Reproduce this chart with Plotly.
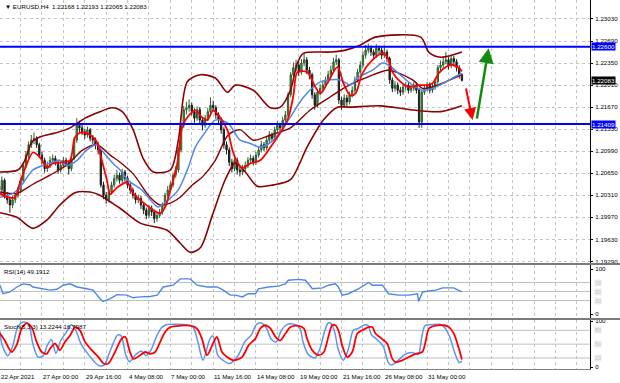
import plotly.graph_objects as go
from plotly.subplots import make_subplots

# ---------------- data ----------------
symbol_title = "▼ EURUSD,H4  1.22168 1.22193 1.22065 1.22083"
rsi_title = "RSI(14) 49.1912"
stoch_title = "Stoch(5,3,3) 13.2244 16.7987"

bar_index = list(range(174))

opens = [
    1.2045, 1.2039, 1.2054, 1.2031, 1.2024, 1.2016, 1.2024, 1.2031, 1.2039, 1.2054,
    1.2077, 1.2093, 1.2109, 1.2116, 1.2119, 1.2109, 1.2093, 1.2085, 1.2072, 1.2077,
    1.2085, 1.2088, 1.2082, 1.2070, 1.2077, 1.2085, 1.2080, 1.2072, 1.2088, 1.2116,
    1.2139, 1.2135, 1.2129, 1.2124, 1.2132, 1.2119, 1.2116, 1.2109, 1.2101, 1.2047,
    1.2031, 1.2024, 1.2036, 1.2047, 1.2057, 1.2062, 1.2054, 1.2067, 1.2057, 1.2047,
    1.2039, 1.2031, 1.2024, 1.2026, 1.2016, 1.2008, 1.2000, 1.2011, 1.2005, 1.1995,
    1.2000, 1.2005, 1.2016, 1.2031, 1.2039, 1.2047, 1.2062, 1.2070, 1.2101, 1.2139,
    1.2163, 1.2166, 1.2170, 1.2160, 1.2150, 1.2163, 1.2147, 1.2139, 1.2150, 1.2160,
    1.2170, 1.2166, 1.2155, 1.2147, 1.2132, 1.2109, 1.2101, 1.2082, 1.2072, 1.2085,
    1.2070, 1.2067, 1.2072, 1.2077, 1.2085, 1.2088, 1.2082, 1.2093, 1.2101, 1.2109,
    1.2104, 1.2116, 1.2124, 1.2119, 1.2132, 1.2139, 1.2135, 1.2147, 1.2155, 1.2186,
    1.2217, 1.2228, 1.2232, 1.2221, 1.2235, 1.2240, 1.2224, 1.2217, 1.2186, 1.2170,
    1.2190, 1.2196, 1.2201, 1.2209, 1.2217, 1.2224, 1.2237, 1.2240, 1.2178, 1.2170,
    1.2181, 1.2175, 1.2186, 1.2193, 1.2209, 1.2221, 1.2232, 1.2247, 1.2255, 1.2258,
    1.2252, 1.2247, 1.2258, 1.2255, 1.2247, 1.2252, 1.2242, 1.2209, 1.2196, 1.2201,
    1.2193, 1.2190, 1.2198, 1.2201, 1.2193, 1.2196, 1.2201, 1.2193, 1.2144, 1.2190,
    1.2196, 1.2201, 1.2193, 1.2198, 1.2206, 1.2228, 1.2232, 1.2237, 1.2240, 1.2231,
    1.2242, 1.2237, 1.2228, 1.22168,
]
highs = [
    1.2058, 1.2060, 1.2057, 1.2036, 1.2029, 1.2030, 1.2035, 1.2044, 1.2058, 1.2081,
    1.2099, 1.2114, 1.2124, 1.2128, 1.2122, 1.2112, 1.2098, 1.2089, 1.2083, 1.2091,
    1.2094, 1.2092, 1.2086, 1.2081, 1.2090, 1.2089, 1.2084, 1.2092, 1.2120, 1.2150,
    1.2146, 1.2140, 1.2133, 1.2137, 1.2135, 1.2124, 1.2120, 1.2113, 1.2104, 1.2052,
    1.2036, 1.2040, 1.2052, 1.2063, 1.2070, 1.2066, 1.2072, 1.2070, 1.2061, 1.2050,
    1.2043, 1.2035, 1.2032, 1.2030, 1.2020, 1.2012, 1.2016, 1.2015, 1.2009, 1.2005,
    1.2010, 1.2020, 1.2035, 1.2045, 1.2052, 1.2066, 1.2076, 1.2105, 1.2143, 1.2169,
    1.2175, 1.2179, 1.2174, 1.2165, 1.2168, 1.2167, 1.2151, 1.2155, 1.2166, 1.2182,
    1.2177, 1.2170, 1.2159, 1.2151, 1.2136, 1.2114, 1.2105, 1.2087, 1.2090, 1.2089,
    1.2075, 1.2078, 1.2083, 1.2090, 1.2094, 1.2092, 1.2098, 1.2106, 1.2115, 1.2113,
    1.2121, 1.2130, 1.2128, 1.2137, 1.2145, 1.2143, 1.2152, 1.2161, 1.2190, 1.2221,
    1.2236, 1.2240, 1.2237, 1.2241, 1.2250, 1.2244, 1.2229, 1.2220, 1.2190, 1.2195,
    1.2202, 1.2207, 1.2214, 1.2223, 1.2231, 1.2243, 1.2248, 1.2243, 1.2183, 1.2187,
    1.2186, 1.2191, 1.2199, 1.2214, 1.2226, 1.2238, 1.2253, 1.2263, 1.2265, 1.2262,
    1.2256, 1.2264, 1.2262, 1.2259, 1.2262, 1.2256, 1.2245, 1.2213, 1.2207, 1.2205,
    1.2198, 1.2203, 1.2206, 1.2205, 1.2201, 1.2206, 1.2205, 1.2196, 1.2193, 1.2201,
    1.2206, 1.2205, 1.2203, 1.2211, 1.2232, 1.2239, 1.2244, 1.2252, 1.2244, 1.2248,
    1.2246, 1.2241, 1.2232, 1.22193,
]
lows = [
    1.2030, 1.2033, 1.2026, 1.2018, 1.2004, 1.2011, 1.2019, 1.2027, 1.2035, 1.2050,
    1.2073, 1.2088, 1.2104, 1.2110, 1.2104, 1.2088, 1.2079, 1.2066, 1.2067, 1.2073,
    1.2080, 1.2077, 1.2064, 1.2066, 1.2073, 1.2075, 1.2063, 1.2068, 1.2085, 1.2112,
    1.2128, 1.2124, 1.2118, 1.2120, 1.2114, 1.2110, 1.2102, 1.2094, 1.2043, 1.2025,
    1.2018, 1.2020, 1.2032, 1.2043, 1.2052, 1.2049, 1.2050, 1.2052, 1.2042, 1.2033,
    1.2026, 1.2018, 1.2019, 1.2010, 1.2002, 1.1994, 1.1996, 1.1999, 1.1988, 1.1990,
    1.1996, 1.2001, 1.2012, 1.2027, 1.2035, 1.2043, 1.2058, 1.2066, 1.2097, 1.2135,
    1.2156, 1.2160, 1.2154, 1.2143, 1.2146, 1.2140, 1.2131, 1.2135, 1.2146, 1.2156,
    1.2160, 1.2149, 1.2141, 1.2126, 1.2103, 1.2094, 1.2076, 1.2066, 1.2068, 1.2063,
    1.2060, 1.2062, 1.2068, 1.2073, 1.2080, 1.2077, 1.2078, 1.2089, 1.2097, 1.2099,
    1.2100, 1.2111, 1.2114, 1.2115, 1.2128, 1.2130, 1.2131, 1.2143, 1.2151, 1.2182,
    1.2212, 1.2222, 1.2215, 1.2217, 1.2230, 1.2218, 1.2210, 1.2180, 1.2163, 1.2166,
    1.2185, 1.2191, 1.2197, 1.2204, 1.2212, 1.2220, 1.2232, 1.2172, 1.2163, 1.2166,
    1.2169, 1.2171, 1.2182, 1.2189, 1.2205, 1.2217, 1.2228, 1.2242, 1.2250, 1.2246,
    1.2241, 1.2243, 1.2249, 1.2241, 1.2243, 1.2236, 1.2203, 1.2190, 1.2191, 1.2187,
    1.2184, 1.2186, 1.2193, 1.2188, 1.2189, 1.2192, 1.2188, 1.2135, 1.2135, 1.2186,
    1.2192, 1.2188, 1.2189, 1.2194, 1.2203, 1.2223, 1.2227, 1.2233, 1.2225, 1.2227,
    1.2230, 1.2222, 1.2211, 1.22065,
]
closes = [
    1.2039, 1.2054, 1.2031, 1.2024, 1.2016, 1.2024, 1.2031, 1.2039, 1.2054, 1.2077,
    1.2093, 1.2109, 1.2116, 1.2119, 1.2109, 1.2093, 1.2085, 1.2072, 1.2077, 1.2085,
    1.2088, 1.2082, 1.2070, 1.2077, 1.2085, 1.2080, 1.2072, 1.2088, 1.2116, 1.2139,
    1.2135, 1.2129, 1.2124, 1.2132, 1.2119, 1.2116, 1.2109, 1.2101, 1.2047, 1.2031,
    1.2024, 1.2036, 1.2047, 1.2057, 1.2062, 1.2054, 1.2067, 1.2057, 1.2047, 1.2039,
    1.2031, 1.2024, 1.2026, 1.2016, 1.2008, 1.2000, 1.2011, 1.2005, 1.1995, 1.2000,
    1.2005, 1.2016, 1.2031, 1.2039, 1.2047, 1.2062, 1.2070, 1.2101, 1.2139, 1.2163,
    1.2166, 1.2170, 1.2160, 1.2150, 1.2163, 1.2147, 1.2139, 1.2150, 1.2160, 1.2170,
    1.2166, 1.2155, 1.2147, 1.2132, 1.2109, 1.2101, 1.2082, 1.2072, 1.2085, 1.2070,
    1.2067, 1.2072, 1.2077, 1.2085, 1.2088, 1.2082, 1.2093, 1.2101, 1.2109, 1.2104,
    1.2116, 1.2124, 1.2119, 1.2132, 1.2139, 1.2135, 1.2147, 1.2155, 1.2186, 1.2217,
    1.2228, 1.2232, 1.2221, 1.2235, 1.2240, 1.2224, 1.2217, 1.2186, 1.2170, 1.2190,
    1.2196, 1.2201, 1.2209, 1.2217, 1.2224, 1.2237, 1.2240, 1.2178, 1.2170, 1.2181,
    1.2175, 1.2186, 1.2193, 1.2209, 1.2221, 1.2232, 1.2247, 1.2255, 1.2258, 1.2252,
    1.2247, 1.2258, 1.2255, 1.2247, 1.2252, 1.2242, 1.2209, 1.2196, 1.2201, 1.2193,
    1.2190, 1.2198, 1.2201, 1.2193, 1.2196, 1.2201, 1.2193, 1.2144, 1.2190, 1.2196,
    1.2201, 1.2193, 1.2198, 1.2206, 1.2228, 1.2232, 1.2237, 1.2240, 1.2231, 1.2242,
    1.2237, 1.2228, 1.2217, 1.22083,
]

fast_ma_x = [0.3, 2.9, 5.9, 7.7, 10.4, 12.6, 15.2, 17.9, 20.1, 23.9, 26.5, 28.4, 31.0, 34.0, 36.6,
             37.7, 40.3, 41.5, 44.1, 47.8, 50.1, 53.8, 57.6, 60.2, 62.1, 64.0, 66.6, 68.4, 70.3, 73.3,
             75.9, 77.8, 80.0, 81.9, 85.3, 87.2, 89.0, 90.9, 93.9, 97.6, 101.4, 107.8, 110.0, 111.5, 115.2,
             118.2, 120.1, 122.7, 126.5, 128.7, 131.3, 133.2, 135.8, 139.6, 143.3, 145.2, 147.1, 149.3, 153.1, 156.8,
             159.4, 162.1, 164.3, 167.0, 169.6, 172.0, 173.0]
fast_ma_y = [1.2034, 1.2028, 1.2028, 1.2050, 1.2080, 1.2097, 1.2090, 1.2074, 1.2080, 1.2082, 1.2085, 1.2121, 1.2128, 1.2124, 1.2113,
             1.2096, 1.2054, 1.2033, 1.2043, 1.2051, 1.2034, 1.2020, 1.2008, 1.2003, 1.2013, 1.2039, 1.2080, 1.2136, 1.2151, 1.2162,
             1.2151, 1.2147, 1.2162, 1.2155, 1.2132, 1.2101, 1.2082, 1.2073, 1.2080, 1.2085, 1.2105, 1.2147, 1.2185, 1.2221, 1.2221,
             1.2198, 1.2188, 1.2204, 1.2229, 1.2204, 1.2185, 1.2188, 1.2219, 1.2240, 1.2250, 1.2244, 1.2221, 1.2209, 1.2198, 1.2201,
             1.2201, 1.2204, 1.2219, 1.2229, 1.2232, 1.2227, 1.2222]

slow_ma_x = [0.3, 5.1, 7.7, 12.6, 16.4, 20.1, 22.7, 25.4, 29.1, 32.8, 36.6, 38.8, 42.6, 45.2, 48.2,
             53.4, 59.4, 63.2, 66.9, 70.7, 73.3, 77.0, 80.8, 85.6, 90.1, 93.9, 97.6, 102.5, 108.9, 113.7,
             120.1, 127.6, 131.3, 134.3, 139.6, 143.3, 145.6, 149.3, 154.6, 158.3, 162.1, 167.0, 171.8, 173.0]
slow_ma_y = [1.2028, 1.2034, 1.2043, 1.2070, 1.2077, 1.2082, 1.2085, 1.2077, 1.2085, 1.2101, 1.2109, 1.2098, 1.2080, 1.2070, 1.2054,
             1.2039, 1.2013, 1.2024, 1.2039, 1.2074, 1.2105, 1.2128, 1.2147, 1.2142, 1.2116, 1.2111, 1.2105, 1.2116, 1.2152, 1.2182,
             1.2206, 1.2209, 1.2201, 1.2213, 1.2224, 1.2235, 1.2232, 1.2219, 1.2201, 1.2193, 1.2196, 1.2206, 1.2217, 1.2219]

bb_upper_x = [0.3, 7.0, 9.6, 12.2, 15.2, 20.9, 26.5, 32.1, 37.7, 42.2, 46.0, 50.1, 53.8, 57.6, 64.0,
              67.0, 70.3, 75.2, 80.8, 85.3, 88.3, 95.0, 101.4, 105.1, 108.9, 111.5, 113.7, 123.9, 129.5, 135.1,
              140.7, 157.6, 160.6, 165.1, 173.0]
bb_upper_y = [1.2067, 1.2070, 1.2085, 1.2113, 1.2121, 1.2127, 1.2135, 1.2150, 1.2160, 1.2166, 1.2160, 1.2132, 1.2088, 1.2067, 1.2070,
              1.2116, 1.2206, 1.2217, 1.2212, 1.2190, 1.2201, 1.2193, 1.2166, 1.2167, 1.2193, 1.2235, 1.2250, 1.2252, 1.2255, 1.2263,
              1.2275, 1.2275, 1.2252, 1.2244, 1.2252]

bb_mid_x = [0.3, 6.6, 12.6, 19.0, 25.4, 31.3, 36.6, 41.5, 45.2, 50.1, 56.4, 60.2, 64.0, 67.7, 72.2,
            75.9, 80.8, 85.6, 90.1, 95.0, 101.4, 108.9, 116.4, 123.9, 129.5, 137.0, 145.6, 154.6, 158.3, 163.2,
            167.0, 173.0]
bb_mid_y = [1.2036, 1.2034, 1.2048, 1.2062, 1.2078, 1.2101, 1.2109, 1.2093, 1.2082, 1.2064, 1.2028, 1.2016, 1.2019, 1.2028, 1.2047,
            1.2059, 1.2085, 1.2124, 1.2132, 1.2116, 1.2124, 1.2135, 1.2163, 1.2183, 1.2198, 1.2212, 1.2224, 1.2209, 1.2196, 1.2200,
            1.2206, 1.2217]

bb_lower_x = [0.3, 6.6, 12.6, 17.9, 22.7, 28.3, 34.0, 37.7, 41.5, 45.2, 52.7, 62.8, 67.7, 71.4, 75.2,
              79.7, 84.5, 88.3, 92.0, 96.5, 102.5, 108.9, 115.2, 121.2, 126.5, 131.3, 142.6, 153.8, 165.1, 173.0]
bb_lower_y = [1.2004, 1.1997, 1.1980, 1.1993, 1.2016, 1.2035, 1.2036, 1.2031, 1.2021, 1.2011, 1.1988, 1.1977, 1.1957, 1.1943, 1.1950,
              1.2000, 1.2055, 1.2081, 1.2067, 1.2045, 1.2047, 1.2055, 1.2106, 1.2147, 1.2167, 1.2167, 1.2169, 1.2163, 1.2160, 1.2169]

rsi_x = [0.3, 1.4, 4.0, 6.6, 8.9, 11.5, 12.6, 16.4, 19.0, 21.6, 23.9, 26.5, 29.1, 32.8, 35.1,
         37.7, 38.8, 41.5, 44.1, 47.8, 50.1, 52.7, 56.4, 59.1, 61.3, 65.1, 67.7, 71.4, 74.0, 77.8,
         81.5, 83.8, 86.4, 88.3, 90.9, 93.1, 95.8, 96.9, 100.6, 104.4, 107.0, 108.1, 111.9, 114.5, 117.1,
         120.9, 123.1, 125.7, 126.8, 128.3, 130.6, 134.3, 138.1, 139.6, 143.3, 145.6, 149.3, 153.1, 156.4, 156.8,
         158.3, 163.2, 165.8, 169.9, 171.4, 173.0]
rsi_y = [64, 45, 49, 60, 67, 65, 60, 56, 53, 55, 64, 67, 60, 56, 53,
         34, 28, 34, 43, 42, 36, 38, 39, 42, 60, 64, 78, 78, 64, 60,
         60, 53, 42, 42, 38, 45, 45, 56, 60, 62, 67, 75, 77, 75, 56,
         58, 64, 67, 60, 42, 45, 56, 70, 64, 64, 45, 42, 42, 45, 28,
         49, 53, 58, 58, 53, 49.19]

stoch_k_x = [0.3, 1.0, 3.2, 5.0, 7.0, 9.0, 11.0, 12.6, 14.5, 16.5, 17.8, 19.5, 21.2, 23.0, 25.0,
             27.0, 28.8, 30.6, 33.0, 35.6, 37.5, 39.3, 41.8, 44.3, 45.6, 47.4, 48.7, 51.2, 53.1, 54.9,
             56.8, 58.7, 60.6, 62.5, 66.2, 69.9, 72.4, 74.3, 76.2, 78.7, 79.9, 81.8, 83.7, 86.1, 89.3,
             91.8, 94.3, 96.1, 98.0, 99.9, 101.8, 103.6, 105.5, 107.4, 109.9, 112.4, 113.6, 115.5, 118.0, 119.9,
             121.7, 123.0, 124.2, 125.5, 126.7, 128.6, 130.5, 132.4, 134.2, 136.7, 138.0, 139.2, 141.7, 143.6, 145.5,
             146.7, 149.2, 151.7, 154.2, 156.7, 157.9, 159.2, 161.7, 164.8, 166.7, 168.5, 170.4, 172.0, 173.0]
stoch_k_y = [78, 50, 25, 45, 88, 98, 93, 50, 22, 25, 45, 60, 30, 58, 75,
             92, 78, 50, 30, 12, 3, 5, 40, 70, 68, 25, 12, 28, 35, 25,
             38, 65, 85, 92, 93, 92, 88, 55, 15, 60, 68, 25, 15, 8, 25,
             55, 70, 92, 96, 85, 60, 55, 80, 92, 94, 85, 55, 28, 20, 40,
             78, 96, 94, 75, 40, 15, 38, 80, 84, 92, 90, 70, 58, 45, 10,
             5, 15, 28, 32, 28, 62, 90, 92, 93, 85, 65, 30, 10, 13.22]

stoch_d_x = [0.3, 2.1, 4.6, 6.5, 8.4, 10.3, 12.1, 14.0, 15.9, 17.8, 19.0, 20.9, 22.7, 24.6, 26.5,
             28.4, 30.2, 32.1, 34.6, 37.1, 39.0, 40.8, 43.3, 45.8, 47.1, 48.9, 50.2, 52.7, 54.6, 56.4,
             58.3, 60.2, 62.1, 64.0, 67.7, 71.4, 73.9, 75.8, 77.7, 80.2, 81.4, 83.3, 85.2, 87.6, 90.8,
             93.3, 95.8, 97.6, 99.5, 101.4, 103.3, 105.1, 107.0, 108.9, 111.4, 113.9, 115.1, 117.0, 119.5, 121.4,
             123.2, 124.5, 125.7, 127.0, 128.2, 130.1, 132.0, 133.9, 135.7, 138.2, 139.5, 140.7, 143.2, 145.1, 147.0,
             148.2, 150.7, 153.2, 155.7, 158.2, 159.4, 160.7, 163.2, 166.3, 168.2, 170.0, 171.9, 173.0]
stoch_d_y = [73, 58, 33, 48, 84, 95, 87, 55, 33, 29, 40, 51, 37, 55, 69,
             87, 80, 55, 37, 22, 8, 8, 33, 62, 66, 33, 18, 26, 33, 29,
             33, 55, 77, 87, 90, 90, 84, 62, 26, 55, 66, 33, 22, 15, 22,
             48, 62, 84, 91, 84, 66, 58, 73, 87, 90, 84, 62, 37, 26, 33,
             69, 91, 91, 77, 48, 22, 33, 73, 80, 87, 87, 73, 61, 51, 18,
             11, 15, 22, 29, 33, 55, 84, 90, 91, 87, 73, 40, 16.8]

price_ticks = [1.19290, 1.19630, 1.19970, 1.20310, 1.20650, 1.20990,
               1.21330, 1.21670, 1.22010, 1.22350, 1.22690, 1.23030]
grid_bars = [0, 8, 16, 24, 32, 40, 48, 56, 64, 72, 80, 88, 96, 104, 112, 120, 128,
             136, 144, 152, 160, 168, 176, 184, 192, 200, 208, 216]
time_label_bars = [0.3, 16, 32, 48, 64, 80, 96, 112, 128, 144, 160]
time_labels = ["22 Apr 2021", "27 Apr 00:00", "29 Apr 16:00", "4 May 08:00", "7 May 00:00",
               "11 May 16:00", "14 May 08:00", "19 May 00:00", "21 May 16:00", "26 May 08:00",
               "31 May 00:00"]
resistance_level = 1.22600
support_level = 1.21409
last_price = 1.22083
rsi_levels = [30, 50, 70]
stoch_levels = [20, 50, 80]
down_arrow = {"from": (174.4, 1.2198), "to": (177.0, 1.2147)}
up_arrow = {"from": (178.5, 1.2147), "to": (183.0, 1.2258)}

# ---------------- figure ----------------
FONT = "Liberation Sans, Arial, DejaVu Sans, sans-serif"
MAROON = "#8b0000"
TXT = 6.2

fig = make_subplots(rows=3, cols=1, shared_xaxes=True, vertical_spacing=0.0)

fig.add_trace(go.Candlestick(
    x=bar_index, open=opens, high=highs, low=lows, close=closes,
    increasing=dict(line=dict(color="#2f5f2f", width=1), fillcolor="#3f9f3f"),
    decreasing=dict(line=dict(color="#1e1e1e", width=1), fillcolor="#1e1e1e"),
    whiskerwidth=0, showlegend=False, hoverinfo="skip"), row=1, col=1)

def add_line(x, y, color, width, row, shape="spline"):
    fig.add_trace(go.Scatter(x=x, y=y, mode="lines",
                             line=dict(color=color, width=width, shape=shape, smoothing=0.8),
                             showlegend=False, hoverinfo="skip"), row=row, col=1)

add_line(bb_upper_x, bb_upper_y, MAROON, 1.6, 1)
add_line(bb_lower_x, bb_lower_y, MAROON, 1.6, 1)
add_line(bb_mid_x, bb_mid_y, MAROON, 1.4, 1)
add_line(slow_ma_x, slow_ma_y, "#4f86ea", 1.5, 1)
add_line(fast_ma_x, fast_ma_y, "#ff0000", 1.8, 1)

add_line(rsi_x, rsi_y, "#4f86ea", 1.4, 2, shape="linear")
add_line(stoch_k_x, stoch_k_y, "#5b95ee", 1.5, 3)
add_line(stoch_d_x, stoch_d_y, "#ff0000", 1.8, 3)

fig.update_xaxes(range=[0.3, 220.9], tickmode="array", tickvals=grid_bars,
                 showticklabels=False, showgrid=True, gridcolor="#c4c4c4",
                 griddash="dot", gridwidth=1, zeroline=False, ticks="",
                 rangeslider_visible=False, fixedrange=True)
fig.update_xaxes(showline=True, linecolor="#808080", linewidth=1, row=3, col=1)

axis_font = dict(family=FONT, size=TXT, color="#000000")
common_y = dict(side="right", zeroline=False, showline=True, linecolor="#000000", linewidth=1,
                ticks="outside", ticklen=2, tickcolor="#000000", tickfont=axis_font,
                ticklabelstandoff=1, automargin=False, fixedrange=True)
fig.update_layout(
    width=620, height=383,
    margin=dict(l=0, r=30, t=0, b=14),
    paper_bgcolor="white", plot_bgcolor="white",
    font=dict(family=FONT, size=TXT, color="#000000"),
    showlegend=False,
    yaxis=dict(domain=[0.28726, 1.0], range=[1.19265, 1.23323],
               tickmode="array", tickvals=price_ticks,
               ticktext=["%.5f" % v for v in price_ticks],
               showgrid=True, gridcolor="#c4c4c4", griddash="dot", **common_y),
    yaxis2=dict(domain=[0.13821, 0.28184], range=[-8.9, 108.9],
                tickmode="array", tickvals=[0, 100], ticktext=["0", "100"],
                showgrid=False, **common_y),
    yaxis3=dict(domain=[0.0, 0.13279], range=[-3.9, 102.4],
                tickmode="array", tickvals=[0, 100], ticktext=["0", "100"],
                showgrid=False, **common_y),
)

shapes = []
for lv in rsi_levels:
    shapes.append(dict(type="line", xref="paper", x0=0, x1=1, yref="y2", y0=lv, y1=lv,
                       line=dict(color="#c0c0c0", width=1), layer="below"))
for lv in stoch_levels:
    shapes.append(dict(type="line", xref="paper", x0=0, x1=1, yref="y3", y0=lv, y1=lv,
                       line=dict(color="#c0c0c0", width=1), layer="below"))
for lv in (resistance_level, support_level):
    shapes.append(dict(type="line", xref="paper", x0=0, x1=1, yref="y", y0=lv, y1=lv,
                       line=dict(color="#0000ff", width=2)))
for y0, y1 in ((0.28184, 0.28726), (0.13279, 0.13821)):
    shapes.append(dict(type="rect", xref="paper", x0=0, x1=1.051, yref="paper", y0=y0, y1=y1,
                       fillcolor="#7a7a7a", line=dict(width=0)))
fig.update_layout(shapes=shapes)

ann = []
ann.append(dict(text=symbol_title, xref="paper", yref="paper", x=0, y=1, xanchor="left",
                yanchor="top", xshift=3, yshift=-1, showarrow=False,
                font=dict(family=FONT, size=TXT, color="#000000")))
ann.append(dict(text=rsi_title, xref="paper", yref="paper", x=0, y=0.28184, xanchor="left",
                yanchor="top", xshift=2, yshift=-1, showarrow=False,
                font=dict(family=FONT, size=TXT, color="#000000")))
ann.append(dict(text=stoch_title, xref="paper", yref="paper", x=0, y=0.13279, xanchor="left",
                yanchor="top", xshift=2, yshift=-1, showarrow=False,
                font=dict(family=FONT, size=TXT, color="#000000")))
for b, t in zip(time_label_bars, time_labels):
    ann.append(dict(text=t, xref="x3", yref="paper", x=b, y=0, xanchor="left", yanchor="middle",
                    yshift=-7, xshift=-1, showarrow=False,
                    font=dict(family=FONT, size=TXT, color="#000000")))
for lv, box in ((resistance_level, "#0000ff"), (support_level, "#0000ff"), (last_price, "#000000")):
    ann.append(dict(text="%.5f" % lv, xref="paper", yref="y", x=1, y=lv, xanchor="left",
                    yanchor="middle", xshift=1, showarrow=False, bgcolor=box, borderpad=0,
                    font=dict(family=FONT, size=TXT, color="#ffffff")))
for lv in rsi_levels:
    ann.append(dict(text=str(lv), xref="paper", yref="y2", x=1, y=lv, xanchor="left",
                    yanchor="middle", xshift=4, showarrow=False, bgcolor="#ececec", borderpad=0,
                    font=dict(family=FONT, size=5.5, color="#c8c8c8")))
for lv in stoch_levels:
    ann.append(dict(text=str(lv), xref="paper", yref="y3", x=1, y=lv, xanchor="left",
                    yanchor="middle", xshift=4, showarrow=False, bgcolor="#ececec", borderpad=0,
                    font=dict(family=FONT, size=5.5, color="#c8c8c8")))
for arr, col, w in ((down_arrow, "#ff0000", 2), (up_arrow, "#138a13", 2.5)):
    ann.append(dict(x=arr["to"][0], y=arr["to"][1], ax=arr["from"][0], ay=arr["from"][1],
                    xref="x", yref="y", axref="x", ayref="y", text="", showarrow=True,
                    arrowhead=2, arrowsize=1.2, arrowwidth=w, arrowcolor=col))
fig.update_layout(annotations=ann)

fig.write_html("out.html", config={"displayModeBar": False, "staticPlot": True},
               post_script="document.body.style.margin='0';document.body.style.overflow='hidden';")
